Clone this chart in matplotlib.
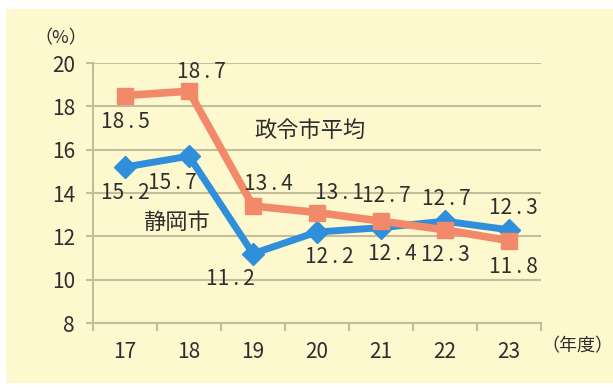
import numpy as np
import matplotlib.pyplot as plt
from matplotlib.patches import Rectangle

plt.rcParams['font.family'] = ['Noto Sans CJK JP', 'DejaVu Sans']

years = ['17', '18', '19', '20', '21', '22', '23']
shizuoka = [15.2, 15.7, 11.2, 12.2, 12.4, 12.7, 12.3]
seirei_avg = [18.5, 18.7, 13.4, 13.1, 12.7, 12.3, 11.8]
y_ticks = [8, 10, 12, 14, 16, 18, 20]

# label offsets in points (dx, dy) for each point
shizuoka_off = [(0, -19), (-12, -19), (-16, -18), (9, -18), (8, -19), (1, 16), (3, 16)]
seirei_off = [(0, -19), (9, 14), (11, 16), (16, 14), (4, 18), (0, -18), (3, -19)]

blue = '#2F8FDA'
orange = '#F3896B'
grid_c = '#C4BD9C'
text_c = '#2E2E2E'


def fmt(v):
    # spaced decimal point, e.g. "15 . 2"
    return f'{v:.1f}'.replace('.', '\u2009.\u2009')


fig = plt.figure(figsize=(6.13, 3.88), dpi=100)
fig.patch.set_facecolor('white')
fig.patches.append(Rectangle((6 / 613, 5 / 388), 1 - 6 / 613, 374 / 388,
                             transform=fig.transFigure, facecolor='#FEF8CF',
                             edgecolor='none', zorder=-5))

ax = fig.add_axes([93 / 613, 1 - 323 / 388, 448 / 613, 260 / 388])
ax.set_facecolor('none')

x = np.arange(len(years))
ax.plot(x, shizuoka, color=blue, lw=5, marker='D', ms=11, zorder=3)
ax.plot(x, seirei_avg, color=orange, lw=5.5, marker='s', ms=12, zorder=4)

for i, v in enumerate(shizuoka):
    ax.annotate(fmt(v), (i, v), xytext=shizuoka_off[i],
                textcoords='offset points', ha='center', va='center',
                fontsize=15, color=text_c, zorder=5)
for i, v in enumerate(seirei_avg):
    ax.annotate(fmt(v), (i, v), xytext=seirei_off[i],
                textcoords='offset points', ha='center', va='center',
                fontsize=15, color=text_c, zorder=5)

ax.text(2.89, 16.9, '政令市平均', fontsize=16, color=text_c, ha='center', va='center')
ax.text(0.81, 12.66, '静岡市', fontsize=16, color=text_c, ha='center', va='center')

ax.set_xlim(-0.5, len(years) - 0.5)
ax.set_ylim(8, 20)
ax.set_yticks(y_ticks)
ax.set_xticks(x)
ax.set_xticklabels(years)
ax.set_xticks(np.arange(-0.5, len(years)), minor=True)
ax.tick_params(axis='x', which='major', length=0, pad=13, labelsize=15, labelcolor=text_c)
ax.tick_params(axis='x', which='minor', length=6, width=1.5, color=grid_c)
ax.tick_params(axis='y', length=5, width=1.5, color=grid_c, pad=8, labelsize=15,
               labelcolor=text_c)

ax.grid(axis='y', color=grid_c, lw=1.5)
ax.set_axisbelow(True)
for side in ['top', 'right']:
    ax.spines[side].set_visible(False)
for side in ['left', 'bottom']:
    ax.spines[side].set_color(grid_c)
    ax.spines[side].set_linewidth(1.5)

fig.text(61 / 613, 1 - 38 / 388, '（%）', fontsize=13, color=text_c, ha='center', va='center')
fig.text(577 / 613, 1 - 346 / 388, '（年度）', fontsize=13, color=text_c, ha='center', va='center')

fig.savefig('out.png', dpi=100)
